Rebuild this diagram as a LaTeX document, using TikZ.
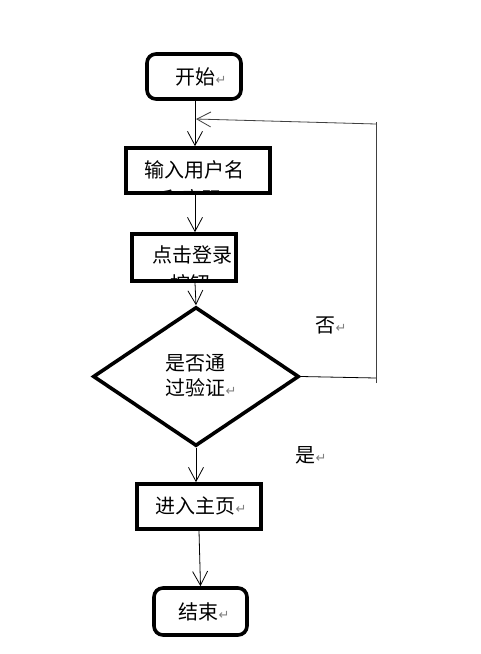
\documentclass[tikz,border=0pt]{standalone}
\usepackage{fontspec}
\newfontfamily\cjk{Noto Sans CJK SC}
\newfontfamily\dv{DejaVu Sans}
\usetikzlibrary{arrows.meta,shapes.geometric}
\newcommand{\pmark}{{\dv\fontsize{13}{13}\selectfont\textcolor{gray}{↵}}}
\tikzset{
  box/.style={draw, line width=3.6pt, inner sep=0pt},
  rbox/.style={box, rounded corners=9pt},
  conn/.style={line width=0.8pt},
  arr/.style={conn, -{Straight Barb[length=14pt,width=15pt,line width=0.8pt]}},
  loopline/.style={line width=0.8pt, draw=black!75},
  lbl/.style={font=\cjk\fontsize{20}{25}\selectfont, inner sep=0pt}
}
\begin{document}
\begin{tikzpicture}[x=1pt,y=-1pt]
\useasboundingbox (0,0) rectangle (480,654);
\fill[white] (0,0) rectangle (480,654);
\coordinate (ax) at (195,0);
% start
\node[rbox, minimum width=94pt, minimum height=45pt] (start) at (194,76.5) {};
\node[lbl] (tstart) at (201,77) {开始\pmark};
% box 1
\begin{scope}
\clip (126,150) rectangle (270,191);
\node[lbl] (t1b) at (198,198.5) {和密码\pmark};
\end{scope}
\node[box, minimum width=144pt, minimum height=45pt] (b1) at (198,170.5) {};
\node[lbl] (t1) at (194,170) {输入用户名};
% box 2
\begin{scope}
\clip (132,236) rectangle (236,279);
\node[lbl] (t2b) at (196,284) {按钮\pmark};
\end{scope}
\node[box, minimum width=104pt, minimum height=47pt] (b2) at (184,257.5) {};
\node[lbl] (t2) at (192,255) {点击登录};
% diamond
\node[diamond, draw, line width=3.6pt, minimum width=206pt, minimum height=139pt, inner sep=0pt] (dia) at (196,376.5) {};
\node[lbl, align=left] (tdia) at (201,376) {是否通\\过验证\pmark};
% box 3
\node[box, minimum width=124pt, minimum height=45pt] (b3) at (199,506.5) {};
\node[lbl] (t3) at (201,506) {进入主页\pmark};
% end
\node[rbox, minimum width=93pt, minimum height=47pt] (end) at (200.5,611.5) {};
\node[lbl] (tend) at (204,612) {结束\pmark};
% labels
\node[lbl] (no) at (331,325) {否\pmark};
\node[lbl] (yes) at (311,455) {是\pmark};
% connectors
\coordinate (m) at (196,119);
\coordinate (cr) at (376,378);
\coordinate (crb) at (376,383);
\coordinate (crt) at (376,122);
\draw[arr] (start.south -| ax) -- (b1.north -| ax);
\draw[arr] (b1.south -| ax) -- (b2.north -| ax);
\draw[arr] (b2.south -| ax) -- (dia.north);
\draw[arr] (dia.south) -- (dia.south |- b3.north);
\draw[arr] (b3.south) -- (end.north);
\draw[conn] (dia.east) -- (cr);
\draw[loopline] (crb) -- (crt);
\draw[loopline, -{Straight Barb[length=14pt,width=15pt,line width=0.8pt]}] (376,124) -- (m);
\end{tikzpicture}
\end{document}
